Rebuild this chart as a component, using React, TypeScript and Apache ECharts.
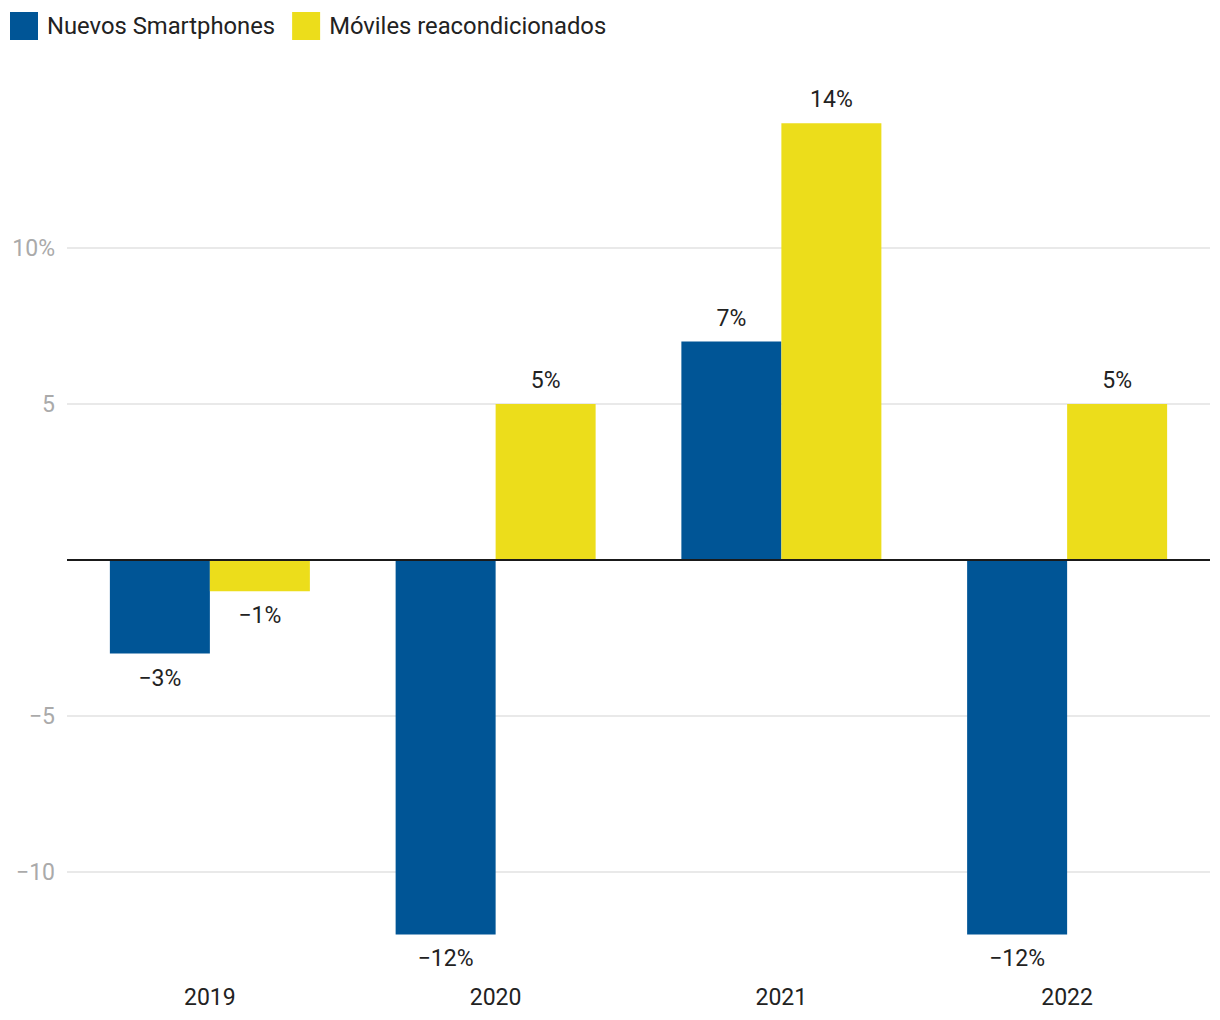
import React, { useEffect, useRef } from "react";
import * as echarts from "echarts";

const categories = ["2019", "2020", "2021", "2022"];
const seriesNames = ["Nuevos Smartphones", "Móviles reacondicionados"];
const nuevos = [-3, -12, 7, -12];
const reacondicionados = [-1, 5, 14, 5];
const gridValues = [10, 5, -5, -10];
const yTickLabels: Record<string, string> = { "10": "10%", "5": "5", "-5": "−5", "-10": "−10" };

const BLUE = "#005596";
const YELLOW = "#ecdd1b";

const fmt = (v: number) => (v < 0 ? "−" : "") + Math.abs(v) + "%";

const barData = (vals: number[]) =>
  vals.map((v) => ({
    value: v,
    label: { position: v < 0 ? "bottom" : "top", distance: v < 0 ? 13 : 12 },
  }));

export default function App() {
  const ref = useRef<HTMLDivElement>(null);
  useEffect(() => {
    document.body.style.margin = "0";
    const chart = echarts.init(ref.current!, null, { renderer: "svg" });
    const font = "Roboto";
    const labelCfg = {
      show: true,
      distance: 12,
      fontSize: 23,
      fontFamily: font,
      color: "#222",
      formatter: (p: any) => fmt(p.value),
    };
    chart.setOption({
      animation: false,
      textStyle: { fontFamily: font },
      legend: {
        data: seriesNames,
        left: 10,
        top: 12,
        padding: 0,
        itemWidth: 28,
        itemHeight: 28,
        itemGap: 17,
        icon: "rect",
        textStyle: { fontSize: 23.8, color: "#222", fontFamily: font, padding: [0, 0, 0, 4] },
      },
      grid: { left: 67, right: 10, top: 123.2, bottom: 85.6 },
      xAxis: {
        type: "category",
        data: categories,
        axisLine: { show: false, onZero: false },
        axisTick: { show: false },
        axisLabel: { fontSize: 23, color: "#222", margin: 52, fontFamily: font },
      },
      yAxis: {
        type: "value",
        min: -12,
        max: 14,
        interval: 1,
        splitLine: { show: false },
        axisLine: { show: false },
        axisTick: { show: false },
        axisLabel: {
          fontSize: 23,
          color: "#aaaaaa",
          margin: 12,
          fontFamily: font,
          formatter: (v: number) => yTickLabels[String(v)] ?? "",
        },
      },
      series: [
        {
          name: "grid",
          type: "line",
          data: [],
          silent: true,
          markLine: {
            silent: true,
            z: 1,
            symbol: "none",
            label: { show: false },
            lineStyle: { color: "#e2e2e2", width: 1.5, type: "solid" },
            data: gridValues.map((v) => ({ yAxis: v })),
          },
        },
        {
          name: seriesNames[0],
          type: "bar",
          data: barData(nuevos),
          barWidth: 100,
          barGap: "0%",
          itemStyle: { color: BLUE },
          label: labelCfg,
          z: 2,
          markLine: {
            silent: true,
            z: 6,
            symbol: "none",
            label: { show: false },
            lineStyle: { color: "#1a1a1a", width: 2, type: "solid" },
            data: [{ yAxis: 0 }],
          },
        },
        {
          name: seriesNames[1],
          type: "bar",
          data: barData(reacondicionados),
          barWidth: 100,
          barGap: "0%",
          itemStyle: { color: YELLOW },
          label: labelCfg,
          z: 2,
        },
      ],
    });
    return () => chart.dispose();
  }, []);
  return <div ref={ref} style={{ width: 1220, height: 1020 }} />;
}
